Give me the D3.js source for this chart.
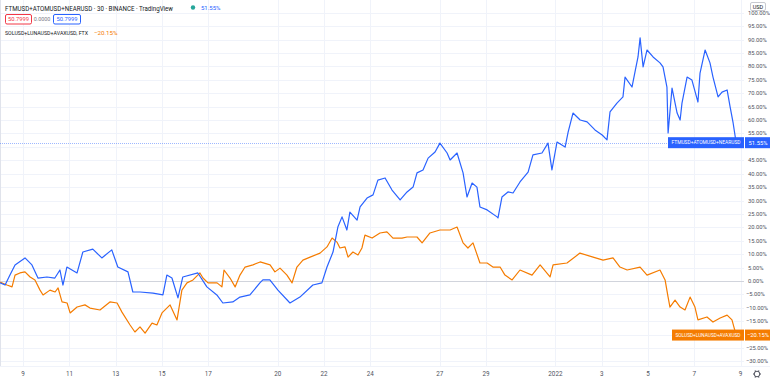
<!DOCTYPE html>
<html>
<head>
<meta charset="utf-8">
<script src="https://cdn.jsdelivr.net/npm/d3@7"></script>
<style>
  html, body { margin: 0; padding: 0; background: #fff; }
  svg { display: block; font-family: Roboto, "Noto Sans", sans-serif; }
</style>
</head>
<body>
<svg id="chart" width="770" height="387"></svg>
<script>
// start of the visible range, days below are offsets from it (UTC)
const startDate = Date.UTC(2021, 11, 8);
const endDay = 32.15;

// FTMUSD+ATOMUSD+NEARUSD, % change  [day offset, percent]
const ftmPoints = [
  [0.00, -0.7], [0.22, -1.5], [0.43, 2.2], [0.65, 6.0], [1.08, 8.6], [1.38, 6.0],
  [1.64, 1.1], [2.03, 1.5], [2.37, 1.1], [2.59, 4.1], [2.72, -1.5], [2.89, 5.2],
  [3.33, 3.0], [3.58, 10.8], [4.01, 11.9], [4.40, 8.6], [4.83, 11.6], [5.09, 5.2],
  [5.53, 3.4], [5.74, -4.1], [6.05, -4.1], [6.61, -4.5], [7.04, -5.2], [7.21, 2.2],
  [7.43, 1.1], [7.69, -6.3], [7.90, 1.5], [8.55, 3.0], [8.94, -2.2], [9.37, -5.2],
  [9.63, -8.2], [10.06, -7.8], [10.37, -6.0], [10.80, -5.2], [11.23, -0.7], [11.36, 0.4],
  [11.66, 0.4], [12.01, -3.4], [12.53, -8.2], [12.96, -6.0], [13.52, -1.5], [13.91, -0.7],
  [14.13, 5.2], [14.39, 10.8], [14.60, 20.1], [14.78, 23.9], [14.99, 19.0], [15.12, 25.7],
  [15.43, 22.7], [15.56, 27.6], [15.86, 30.9], [16.12, 32.1], [16.33, 37.6], [16.64, 38.4],
  [16.94, 33.9], [17.29, 30.2], [17.59, 33.2], [17.85, 35.0], [18.02, 40.3], [18.28, 41.4],
  [18.50, 45.8], [18.80, 48.1], [19.01, 51.4], [19.32, 47.7], [19.45, 45.1], [19.75, 47.7],
  [20.01, 40.3], [20.18, 31.3], [20.40, 36.5], [20.61, 35.0], [20.74, 27.6], [21.05, 26.5],
  [21.48, 23.9], [21.52, 23.5], [21.69, 31.3], [21.95, 33.2], [22.17, 32.8], [22.47, 36.9],
  [22.82, 40.6], [23.03, 47.0], [23.42, 47.7], [23.68, 51.4], [23.85, 41.4], [24.07, 51.8],
  [24.42, 49.9], [24.55, 55.5], [24.76, 62.6], [25.07, 60.0], [25.37, 59.3], [25.71, 56.3],
  [26.02, 54.4], [26.23, 52.6], [26.36, 63.0], [26.66, 66.3], [26.92, 68.6], [27.01, 76.0],
  [27.31, 72.3], [27.44, 77.9], [27.57, 83.5], [27.66, 90.6], [27.79, 79.8], [27.96, 86.1],
  [28.22, 83.5], [28.52, 81.3], [28.65, 79.8], [28.82, 72.3], [28.87, 55.2], [29.04, 71.9],
  [29.26, 62.6], [29.39, 60.0], [29.47, 66.3], [29.69, 76.0], [29.90, 74.9], [30.16, 66.7],
  [30.25, 77.5], [30.47, 86.1], [30.68, 81.3], [30.81, 76.0], [31.03, 68.6], [31.20, 70.4],
  [31.42, 71.2], [31.55, 64.9], [31.68, 58.9], [31.81, 51.55]
];

// SOLUSD+LUNAUSD+AVAXUSD, FTX, % change
const solPoints = [
  [0.00, -0.4], [0.30, -1.5], [0.52, -2.2], [0.65, 2.2], [0.86, 3.0], [1.08, 3.4],
  [1.30, 1.5], [1.51, 0.4], [1.73, -3.4], [1.86, -5.2], [2.16, -3.4], [2.38, -4.1],
  [2.51, -2.6], [2.68, -7.8], [2.90, -8.2], [3.03, -11.9], [3.33, -9.7], [3.67, -8.9],
  [3.89, -10.1], [4.32, -10.8], [4.75, -7.8], [5.06, -8.2], [5.27, -11.6], [5.62, -16.4],
  [5.83, -19.0], [6.05, -17.1], [6.27, -19.4], [6.57, -15.7], [6.78, -16.4], [7.00, -11.9],
  [7.35, -8.9], [7.65, -14.5], [7.86, -3.4], [8.08, -0.7], [8.34, 0.4], [8.64, 3.0],
  [8.77, 1.1], [8.99, -0.7], [9.38, -0.7], [9.59, -2.2], [9.68, 4.1], [9.94, 1.1],
  [10.16, -2.2], [10.37, 2.2], [10.59, 5.2], [10.93, 6.0], [11.24, 7.1], [11.67, 6.0],
  [11.88, 3.4], [12.10, 4.8], [12.40, 2.2], [12.62, -0.7], [12.83, 5.2], [13.09, 7.8],
  [13.40, 8.9], [13.83, 10.4], [14.13, 12.7], [14.35, 16.0], [14.56, 14.5], [14.69, 12.3],
  [14.91, 12.7], [15.04, 8.9], [15.25, 10.8], [15.47, 9.7], [15.64, 12.3], [15.77, 17.1],
  [16.08, 16.0], [16.42, 17.9], [16.72, 18.3], [16.98, 16.0], [17.37, 16.0], [17.59, 16.4],
  [18.02, 16.4], [18.24, 14.2], [18.58, 17.9], [19.01, 19.0], [19.45, 19.0], [19.75, 20.1],
  [20.01, 14.2], [20.22, 12.3], [20.44, 14.2], [20.74, 6.7], [21.05, 6.7], [21.30, 5.2],
  [21.61, 5.2], [21.82, 2.2], [22.13, 0.4], [22.47, 4.1], [22.99, 2.2], [23.34, 6.0],
  [23.77, 1.5], [23.90, 6.0], [24.50, 6.7], [25.06, 10.4], [25.63, 8.9], [26.06, 7.8],
  [26.49, 8.6], [26.79, 5.2], [27.10, 4.1], [27.66, 5.2], [27.96, 2.2], [28.52, 4.1],
  [28.74, 0.4], [28.87, -6.0], [28.95, -9.7], [29.17, -7.1], [29.39, -9.7], [29.60, -10.8],
  [29.82, -6.0], [30.03, -9.7], [30.16, -14.5], [30.55, -13.4], [30.81, -15.3], [31.12, -13.8],
  [31.42, -12.7], [31.63, -14.5], [31.81, -20.15]
];

// x axis ticks (day offsets) and their labels
const xTickDays = [1, 3, 5, 7, 9, 12, 14, 16, 19, 21, 24, 26, 28, 30, 32];
const xTickLabels = ["9", "11", "13", "15", "17", "20", "22", "24", "27", "29", "2022", "3", "5", "7", "9"];

// percent scale ticks
const yTicks = d3.range(-30, 101, 5);

const ftmLast = 51.55;
const solLast = -20.15;

const svg = d3.select("#chart");
const W = 770, H = 387;
const plotRight = 744;
const plotBottom = 366;

const blue = "#2962ff";
const orange = "#f57c00";

const dayMs = 24 * 3600 * 1000;
const toDate = d => new Date(startDate + d * dayMs);

const x = d3.scaleUtc()
  .domain([toDate(0), toDate(endDay)])
  .range([0, plotRight]);

const y = d3.scaleLinear()
  .domain([-31.68, 104.73])
  .range([plotBottom, 0]);

const fmtPct = v => (v < 0 ? "\u2212" : "") + Math.abs(v).toFixed(2) + "%";

// grid
const grid = svg.append("g");
grid.selectAll("line.h")
  .data(yTicks)
  .join("line")
  .attr("x1", 0).attr("x2", plotRight)
  .attr("y1", d => Math.round(y(d)) + 0.5).attr("y2", d => Math.round(y(d)) + 0.5)
  .attr("stroke", "#f0f3fa");
grid.selectAll("line.v")
  .data(xTickDays)
  .join("line")
  .attr("x1", d => Math.round(x(toDate(d))) + 0.5).attr("x2", d => Math.round(x(toDate(d))) + 0.5)
  .attr("y1", 0).attr("y2", plotBottom)
  .attr("stroke", "#f0f3fa");

// zero line
svg.append("line")
  .attr("x1", 0).attr("x2", plotRight)
  .attr("y1", Math.round(y(0)) + 0.5).attr("y2", Math.round(y(0)) + 0.5)
  .attr("stroke", "#d1d4dc");

// left border and pane separators
svg.append("line").attr("x1", 0.5).attr("x2", 0.5).attr("y1", 0).attr("y2", plotBottom).attr("stroke", "#e0e3eb");
svg.append("line").attr("x1", 0).attr("x2", W).attr("y1", plotBottom + 0.5).attr("y2", plotBottom + 0.5).attr("stroke", "#f0f3fa");

// last price line (dotted)
svg.append("line")
  .attr("x1", 0).attr("x2", plotRight)
  .attr("y1", Math.round(y(ftmLast)) + 0.5).attr("y2", Math.round(y(ftmLast)) + 0.5)
  .attr("stroke", blue).attr("stroke-opacity", 0.45)
  .attr("stroke-dasharray", "1,1");

// series
const line = d3.line()
  .x(d => x(toDate(d[0])))
  .y(d => y(d[1]));

svg.append("path")
  .datum(solPoints)
  .attr("fill", "none")
  .attr("stroke", orange)
  .attr("stroke-width", 1.2)
  .attr("stroke-linejoin", "round")
  .attr("d", line);

svg.append("path")
  .datum(ftmPoints)
  .attr("fill", "none")
  .attr("stroke", blue)
  .attr("stroke-width", 1.2)
  .attr("stroke-linejoin", "round")
  .attr("d", line);

// right price scale (labels under the last-value tags are hidden, as in TradingView)
const visibleTicks = yTicks.filter(t =>
  Math.abs(y(t) - y(ftmLast)) > 8 && Math.abs(y(t) - y(solLast)) > 8);
svg.append("g").selectAll("text")
  .data(visibleTicks)
  .join("text")
  .attr("x", d => d < 0 ? 746 : 748)
  .attr("y", d => y(d) + 2)
  .attr("font-size", 5.8)
  .attr("fill", "#50535e")
  .text(d => fmtPct(d));

// USD unit box
svg.append("rect")
  .attr("x", 750.5).attr("y", 2.5).attr("width", 15).attr("height", 8).attr("rx", 1.5)
  .attr("fill", "#fff").attr("stroke", "#c8cad0");
svg.append("text")
  .attr("x", 758).attr("y", 8.6).attr("text-anchor", "middle")
  .attr("font-size", 5.5).attr("fill", "#131722").text("USD");

// bottom time scale
svg.append("g").selectAll("text")
  .data(xTickDays)
  .join("text")
  .attr("x", (d, i) => x(toDate(d)))
  .attr("y", 376)
  .attr("text-anchor", "middle")
  .attr("font-size", 6.3)
  .attr("fill", "#50535e")
  .text((d, i) => xTickLabels[i]);

// settings gear
const gear = svg.append("g").attr("transform", "translate(757,374)");
gear.append("circle").attr("r", 2.8).attr("fill", "none").attr("stroke", "#50535e").attr("stroke-width", 1);
gear.selectAll("line")
  .data(d3.range(0, 360, 60))
  .join("line")
  .attr("x1", d => 2.8 * Math.cos(d * Math.PI / 180)).attr("y1", d => 2.8 * Math.sin(d * Math.PI / 180))
  .attr("x2", d => 4 * Math.cos(d * Math.PI / 180)).attr("y2", d => 4 * Math.sin(d * Math.PI / 180))
  .attr("stroke", "#50535e").attr("stroke-width", 1.2);

// end-of-series labels
const tag = (value, name, color, boxX) => {
  const cy = y(value);
  svg.append("rect")
    .attr("x", boxX).attr("y", cy - 5.5).attr("width", plotRight - boxX).attr("height", 11)
    .attr("fill", color);
  svg.append("text")
    .attr("x", (boxX + plotRight) / 2).attr("y", cy + 1.8)
    .attr("text-anchor", "middle").attr("font-size", 4.9).attr("fill", "#fff")
    .attr("textLength", plotRight - boxX - 7).attr("lengthAdjust", "spacingAndGlyphs")
    .text(name);
  svg.append("rect")
    .attr("x", 745).attr("y", cy - 5.5).attr("width", W - 745).attr("height", 11)
    .attr("fill", color);
  svg.append("text")
    .attr("x", 758).attr("y", cy + 2).attr("text-anchor", "middle")
    .attr("font-size", 5.8).attr("fill", "#fff")
    .text(fmtPct(value));
};
tag(ftmLast, "FTMUSD+ATOMUSD+NEARUSD", blue, 668);
tag(solLast, "SOLUSD+LUNAUSD+AVAXUSD", orange, 672);

// legend
const legend = svg.append("g");
legend.append("text")
  .attr("x", 5).attr("y", 10.5).attr("font-size", 6.8).attr("fill", "#131722")
  .attr("textLength", 168).attr("lengthAdjust", "spacingAndGlyphs")
  .text("FTMUSD+ATOMUSD+NEARUSD \u00b7 30 \u00b7 BINANCE \u00b7 TradingView");
legend.append("circle").attr("cx", 193).attr("cy", 7.5).attr("r", 2.2).attr("fill", "#26a69a");
legend.append("text")
  .attr("x", 201).attr("y", 10).attr("font-size", 6).attr("fill", blue)
  .text(fmtPct(ftmLast));

const boxes = [
  { x: 5, w: 26, text: "50.7999", color: "#f23645" },
  { x: 53, w: 27, text: "50.7999", color: blue }
];
boxes.forEach(b => {
  legend.append("rect")
    .attr("x", b.x + 0.5).attr("y", 14.5).attr("width", b.w).attr("height", 9.5).attr("rx", 1.5)
    .attr("fill", "#fff").attr("stroke", b.color);
  legend.append("text")
    .attr("x", b.x + 0.5 + b.w / 2).attr("y", 21.4).attr("text-anchor", "middle")
    .attr("font-size", 5.8).attr("fill", b.color).text(b.text);
});
legend.append("text")
  .attr("x", 42).attr("y", 21.4).attr("text-anchor", "middle")
  .attr("font-size", 5.4).attr("fill", "#787b86").text("0.0000");

legend.append("text")
  .attr("x", 5).attr("y", 34.5).attr("font-size", 5.8).attr("fill", "#131722")
  .attr("textLength", 83).attr("lengthAdjust", "spacingAndGlyphs")
  .text("SOLUSD+LUNAUSD+AVAXUSD, FTX");
legend.append("text")
  .attr("x", 94).attr("y", 34.5).attr("font-size", 6.2).attr("fill", orange)
  .text(fmtPct(solLast));
</script>
</body>
</html>
